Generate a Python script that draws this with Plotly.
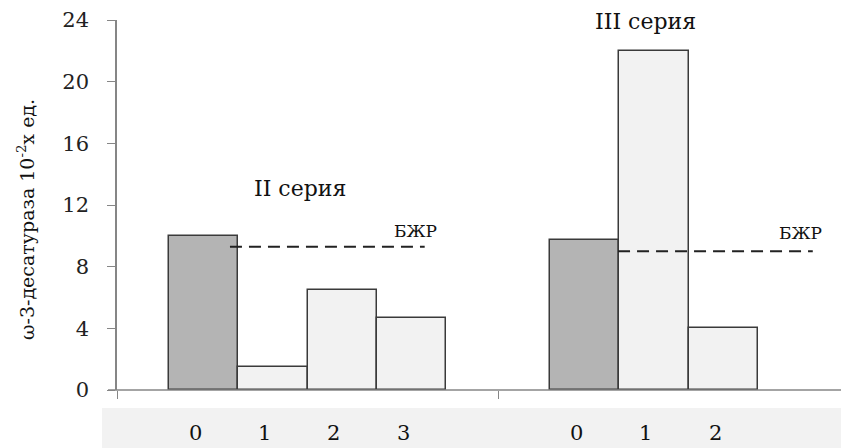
import plotly.graph_objects as go

# ---- data ----
series_names = ["II серия", "III серия"]
values_II = [10.0, 1.5, 6.5, 4.7]
values_III = [9.7, 22.0, 4.0]
labels_II = ["0", "1", "2", "3"]
labels_III = ["0", "1", "2"]
bzhr_values = [9.3, 9.0]
bzhr_label = "БЖР"
y_ticks = [0, 4, 8, 12, 16, 20, 24]
y_title = "ω-3-десатураза 10<sup>-2</sup>х ед."

# ---- layout constants (page pixels; page has 8px body margin) ----
OFF = 8
PAGE_W, PAGE_H = 849, 448
W, H = PAGE_W - OFF, PAGE_H - OFF
AX_X, AX_TOP, AX_BOT = 117, 20, 390
L, T = AX_X - OFF, AX_TOP - OFF
R, B = 0, PAGE_H - AX_BOT
PW, PH = W - L - R, H - T - B
CAT_W = 5.5
XMAX = PW / 69.3
FONT = "DejaVu Serif"

def px_x(p):
    return (p - AX_X) / PW

def px_y(p):
    return (AX_BOT - p) / PH

groups = [values_II, values_III]
glabels = [labels_II, labels_III]

fig = go.Figure()
annotations = []

def ann(x, xref, y, text, size, **kw):
    d = dict(x=x, xref=xref, y=y, yref="paper", text=text, showarrow=False,
             xanchor="center", yanchor="middle",
             font=dict(family=FONT, size=size, color="#111"))
    d.update(kw)
    annotations.append(d)

for g, vals in enumerate(groups):
    start = CAT_W * g + 1.25
    xs = [start + i for i in range(len(vals))]
    colors = ["#b4b4b4"] + ["#f2f2f2"] * (len(vals) - 1)
    fig.add_trace(go.Bar(
        x=xs, y=vals, width=1.0,
        marker=dict(color=colors, line=dict(color="#3a3a3a", width=1.5)),
        showlegend=False, hoverinfo="y"))
    for i, lab in enumerate(glabels[g]):
        ann(xs[i] - 0.12, "x", px_y(433), lab, 21)

bz_x = [(1.63, 4.44), (7.23, 10.04)]
bz_lab = [(4.31, 231), (9.86, 233)]
for g, v in enumerate(bzhr_values):
    x0, x1 = bz_x[g]
    fig.add_trace(go.Scatter(
        x=[x0, x1], y=[v, v], mode="lines",
        line=dict(color="#222", width=2, dash="12px,7px"),
        showlegend=False, hoverinfo="skip"))
    ann(bz_lab[g][0], "x", px_y(bz_lab[g][1]), bzhr_label, 17)

title_pos = [(2.64, 188), (7.62, 22)]
for g, name in enumerate(series_names):
    ann(title_pos[g][0], "x", px_y(title_pos[g][1]), name, 22)

ann(px_x(26), "paper", px_y(220), y_title, 19, textangle=-90)

shapes = [
    dict(type="rect", xref="paper", yref="paper",
         x0=px_x(102), x1=1.0, y0=px_y(448), y1=px_y(408),
         fillcolor="#f2f2f2", line=dict(width=0), layer="below"),
    dict(type="line", xref="paper", yref="paper",
         x0=px_x(108), x1=1.0, y0=0, y1=0,
         line=dict(color="#868686", width=1.5)),
]

fig.update_layout(
    width=W, height=H,
    font=dict(family=FONT),
    margin=dict(l=L, r=R, t=T, b=B, pad=0),
    plot_bgcolor="white", paper_bgcolor="white",
    bargap=0,
    annotations=annotations, shapes=shapes,
    xaxis=dict(range=[0, XMAX], tickvals=[0, CAT_W], ticks="outside",
               ticklen=8, tickcolor="#868686", showticklabels=False,
               showgrid=False, zeroline=False, showline=False, fixedrange=True),
    yaxis=dict(range=[0, 24], tickvals=y_ticks, ticks="outside", ticklen=8,
               tickcolor="#868686", showline=True, linecolor="#868686",
               linewidth=1.5, showgrid=False, zeroline=False,
               ticklabelstandoff=14,
               tickfont=dict(family=FONT, size=21, color="#222")),
)

fig.write_html("out.html")
